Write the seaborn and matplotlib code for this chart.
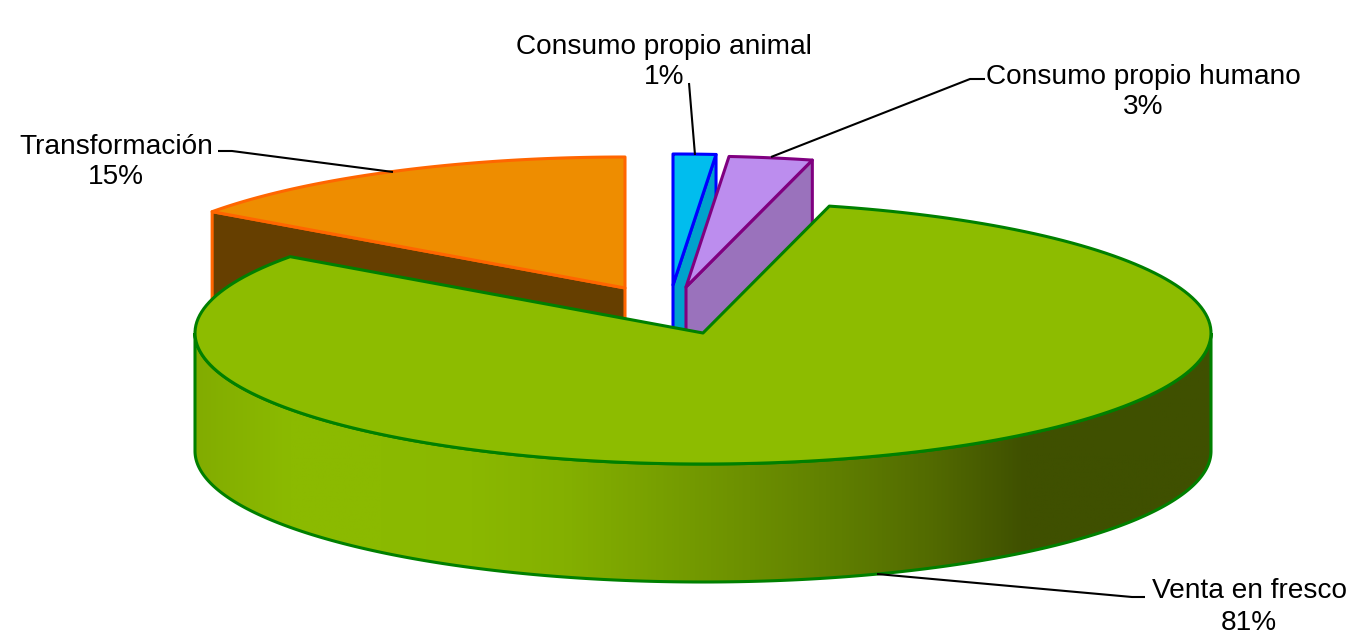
import matplotlib
matplotlib.use("Agg")
import matplotlib.pyplot as plt
import numpy as np
import seaborn as sns
from matplotlib.patches import Polygon

names = ["Consumo propio animal", "Consumo propio humano", "Venta en fresco", "Transformación"]
shares = [1.35, 2.65, 80.9, 15.1]

# pixel layout of the picture
apex = {"Consumo propio animal": (673, 285), "Consumo propio humano": (686, 287),
        "Venta en fresco": (703, 333), "Transformación": (625, 288)}
label_pos = {"Consumo propio animal": (664, 62), "Consumo propio humano": (1143, 92),
             "Venta en fresco": (1249, 607), "Transformación": (116, 162)}
leaders = {"Consumo propio animal": [(689, 83), (695, 155)],
           "Consumo propio humano": [(985, 79), (970, 79), (771, 157)],
           "Venta en fresco": [(1145, 597), (1132, 597), (877, 574)],
           "Transformación": [(218, 151), (232, 151), (393, 172)]}
top_col = {"Consumo propio animal": "#00BDEE", "Consumo propio humano": "#BC8DEE",
           "Venta en fresco": "#8DBC00", "Transformación": "#EE8D00"}
wall_col = {"Consumo propio animal": "#00A2CC", "Consumo propio humano": "#9A72BC",
            "Transformación": "#663F00"}
edge_col = {"Consumo propio animal": "#0000FF", "Consumo propio humano": "#800080",
            "Venta en fresco": "#008000", "Transformación": "#FF6600"}
rx, ry, depth = 508, 131, 118

sns.set_theme(style="white")
plt.rcParams["font.family"] = ["Liberation Sans", "DejaVu Sans"]

fig, ax = plt.subplots(figsize=(13.52, 6.33), dpi=100)
fig.subplots_adjust(0, 0, 1, 1)


def rim(name, t):
    # t is the clockwise angle from the top, in degrees
    cx, cy = apex[name]
    t = np.radians(t)
    return cx + rx * np.sin(t), cy - ry * np.cos(t)


edges = np.cumsum([0] + shares) * 3.6
span = {n: (edges[i], edges[i + 1]) for i, n in enumerate(names)}


def top_face(name):
    a, b = span[name]
    t = np.linspace(a, b, 200)
    x, y = rim(name, t)
    return np.column_stack([np.r_[apex[name][0], x], np.r_[apex[name][1], y]])


def cut_wall(name, t):
    x0, y0 = apex[name]
    x1, y1 = rim(name, t)
    return [(x0, y0), (x1, y1), (x1, y1 + depth), (x0, y0 + depth)]


# back slices first, the big one covers them
for name, t, z in [("Transformación", span["Transformación"][0], 2),
                   ("Consumo propio animal", span["Consumo propio animal"][1], 4),
                   ("Consumo propio humano", span["Consumo propio humano"][1], 6)]:
    ax.add_patch(Polygon(cut_wall(name, t), closed=True, fc=wall_col[name], ec=edge_col[name],
                         lw=2.2, zorder=z, joinstyle="round"))
    ax.add_patch(Polygon(top_face(name), closed=True, fc=top_col[name], ec=edge_col[name],
                         lw=2.2, zorder=z + 1, joinstyle="round"))

# side of the big slice, gradient clipped to the band below the rim
name = "Venta en fresco"
cx, cy = apex[name]
t = np.linspace(90, 270, 400)
xs, ys = rim(name, t)
band = np.r_[np.column_stack([xs, ys]), np.column_stack([xs, ys + depth])[::-1]]
shade = sns.blend_palette(["#82AC00", "#8BBA00", "#8BBA00", "#8AB800", "#84B000", "#78A000", "#6C8F00",
                           "#5F7E00", "#526A00", "#3F5000", "#3F5000", "#3F5000"], as_cmap=True)
side = ax.imshow(np.linspace(0, 1, 512)[None, :], extent=(cx - rx, cx + rx, cy + ry + depth, cy - 5),
                 cmap=shade, aspect="auto", zorder=8)
clip = Polygon(band, closed=True, transform=ax.transData)
side.set_clip_path(clip)
ax.add_patch(Polygon(band, closed=True, fc="none", ec=edge_col[name], lw=2.2, zorder=9))
ax.add_patch(Polygon(top_face(name), closed=True, fc=top_col[name], ec=edge_col[name],
                     lw=2.2, zorder=10, joinstyle="round"))

for n in names:
    share = shares[names.index(n)]
    x, y = label_pos[n]
    ax.text(x, y, f"{n}\n{round(share)}%", ha="center", va="center", ma="center",
            fontsize=20.2, color="black", linespacing=1.25, zorder=12)
    px, py = zip(*leaders[n])
    ax.plot(px, py, color="black", lw=1.5, zorder=11, solid_capstyle="butt")

ax.set_xlim(0, 1352)
ax.set_ylim(633, 0)
ax.axis("off")
fig.savefig("out.png", dpi=100, facecolor="white")
